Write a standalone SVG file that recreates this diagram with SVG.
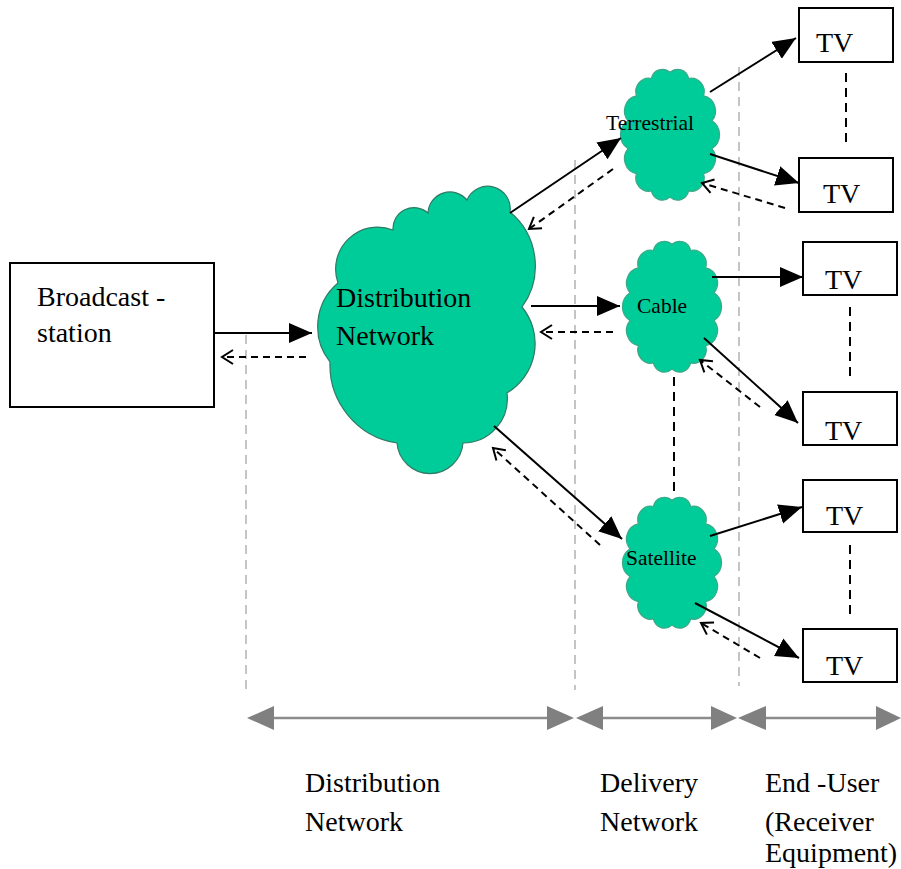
<svg xmlns="http://www.w3.org/2000/svg" width="901" height="869" viewBox="0 0 901 869">
<style>
  .box { fill: #fff; stroke: #000; stroke-width: 2; }
  .lbl { font-family: "Liberation Serif", "Times New Roman", serif; font-size: 28px; fill: #000; }
  .sm { font-family: "Liberation Serif", "Times New Roman", serif; font-size: 21.5px; fill: #000; }
  .cloud { fill: #00CC99; stroke: #2E7A64; stroke-width: 1.2; }
  .scloud { fill: #00CC99; stroke: #3AA887; stroke-width: 1.2; }
  .solid { stroke: #000; stroke-width: 2; fill: none; marker-end: url(#head); }
  .back { stroke: #000; stroke-width: 2; fill: none; stroke-dasharray: 7 5; marker-end: url(#open); }
  .gdash { stroke: #C4C4C4; stroke-width: 2; stroke-dasharray: 9 6; fill: none; }
  .bdash { stroke: #000; stroke-width: 2; stroke-dasharray: 9 6; fill: none; }
  .gline { stroke: #8C8C8C; stroke-width: 2.5; fill: none; }
  .ghead { fill: #808080; }
</style>
<defs>
  <marker id="head" markerUnits="userSpaceOnUse" markerWidth="24" markerHeight="22" refX="23" refY="10" orient="auto">
    <path d="M0,0 L23,10 L0,20 Z" fill="#000"/>
  </marker>
  <marker id="open" markerUnits="userSpaceOnUse" markerWidth="16" markerHeight="18" refX="12" refY="8" orient="auto">
    <path d="M1,1 L12,8 L1,15" fill="none" stroke="#000" stroke-width="2"/>
  </marker>
  <path id="smallcloud" d="M50,8 A11.4,11.4 0 0 1 68.66,13.94 A13,13 0 0 1 83.62,30.59 A14.7,14.7 0 0 1 91.92,54.65 A15.5,15.5 0 0 1 91.92,81.35 A14.7,14.7 0 0 1 83.62,105.41 A13,13 0 0 1 68.66,122.06 A11.4,11.4 0 0 1 50,128 A11.4,11.4 0 0 1 31.34,122.06 A13,13 0 0 1 16.38,105.41 A14.7,14.7 0 0 1 8.08,81.35 A15.5,15.5 0 0 1 8.08,54.65 A14.7,14.7 0 0 1 16.38,30.59 A13,13 0 0 1 31.34,13.94 A11.4,11.4 0 0 1 50,8 Z"/>
</defs>
<rect width="901" height="869" fill="#fff"/>

<g id="guides">
  <line class="gdash" x1="246" y1="335" x2="246" y2="690"/>
  <line class="gdash" x1="575" y1="160" x2="575" y2="690"/>
  <line class="gdash" x1="739" y1="67" x2="739" y2="686"/>
</g>

<g id="broadcast">
  <rect class="box" x="10" y="263" width="204" height="144"/>
  <text class="lbl" x="37" y="306">Broadcast -</text>
  <text class="lbl" x="37" y="342">station</text>
</g>

<g id="distribution">
  <path class="cloud" d="M338,283 A42,42 0 0 1 393,230 A21,21 0 0 1 428,213 A22,22 0 0 1 467,200 A22.5,22.5 0 0 1 510,212 A70,70 0 0 1 522,307 A57.5,57.5 0 0 1 507,393 A44.5,44.5 0 0 1 463,443 A33.1,33.1 0 0 1 397,443 A79,79 0 0 1 330,362 A57,57 0 0 1 338,283 Z"/>
  <text class="lbl" x="336" y="307">Distribution</text>
  <text class="lbl" x="336" y="345">Network</text>
</g>

<g id="terrestrial">
  <use href="#smallcloud" class="scloud" transform="translate(620,64) scale(1,1.04)"/>
  <text class="sm" x="606" y="130">Terrestrial</text>
</g>
<g id="cable">
  <use href="#smallcloud" class="scloud" transform="translate(622,236) scale(1,1.04)"/>
  <text class="sm" x="637" y="313">Cable</text>
</g>
<g id="satellite">
  <use href="#smallcloud" class="scloud" transform="translate(622,492) scale(1,1.04)"/>
  <text class="sm" x="626" y="565">Satellite</text>
</g>

<g id="tv1"><rect class="box" x="799" y="8" width="94" height="54"/><text class="lbl" x="816" y="52">TV</text></g>
<g id="tv2"><rect class="box" x="799" y="158" width="94" height="54"/><text class="lbl" x="823" y="203">TV</text></g>
<g id="tv3"><rect class="box" x="803" y="242" width="94" height="53"/><text class="lbl" x="825" y="289">TV</text></g>
<g id="tv4"><rect class="box" x="803" y="392" width="94" height="53"/><text class="lbl" x="825" y="440">TV</text></g>
<g id="tv5"><rect class="box" x="803" y="480" width="94" height="52"/><text class="lbl" x="826" y="525">TV</text></g>
<g id="tv6"><rect class="box" x="803" y="629" width="94" height="53"/><text class="lbl" x="826" y="675">TV</text></g>

<g id="connectors">
  <line class="solid" x1="214" y1="333" x2="312" y2="333"/>
  <line class="back" x1="306" y1="357" x2="222" y2="357"/>
  <line class="solid" x1="510" y1="213" x2="621" y2="138"/>
  <line class="back" x1="613" y1="169" x2="529" y2="229"/>
  <line class="solid" x1="531" y1="306" x2="620" y2="306"/>
  <line class="back" x1="613" y1="332" x2="541" y2="332"/>
  <line class="solid" x1="494" y1="426" x2="622" y2="539"/>
  <line class="back" x1="600" y1="545" x2="493" y2="448"/>
  <line class="solid" x1="710" y1="92" x2="796" y2="38"/>
  <line class="solid" x1="710" y1="154" x2="799" y2="183"/>
  <line class="back" x1="785" y1="208" x2="702" y2="183"/>
  <line class="solid" x1="712" y1="277" x2="803" y2="277"/>
  <line class="solid" x1="704" y1="338" x2="798" y2="423"/>
  <line class="back" x1="760" y1="407" x2="700" y2="360"/>
  <line class="solid" x1="710" y1="536" x2="802" y2="507"/>
  <line class="solid" x1="695" y1="603" x2="799" y2="658"/>
  <line class="back" x1="760" y1="658" x2="701" y2="623"/>
  <line class="bdash" x1="846" y1="73" x2="846" y2="148"/>
  <line class="bdash" x1="850" y1="307" x2="850" y2="382"/>
  <line class="bdash" x1="850" y1="545" x2="850" y2="618"/>
  <line class="bdash" x1="674" y1="377" x2="674" y2="492"/>
</g>

<g id="scale">
  <line class="gline" x1="270" y1="718" x2="550" y2="718"/>
  <polygon class="ghead" points="247,718 274,706 274,730"/>
  <polygon class="ghead" points="574,718 547,706 547,730"/>
  <line class="gline" x1="600" y1="718" x2="714" y2="718"/>
  <polygon class="ghead" points="576,718 603,706 603,730"/>
  <polygon class="ghead" points="737,718 711,706 711,730"/>
  <line class="gline" x1="763" y1="718" x2="878" y2="718"/>
  <polygon class="ghead" points="738,718 766,706 766,730"/>
  <polygon class="ghead" points="901,718 876,706 876,730"/>
</g>

<g id="legend">
  <text class="lbl" x="305" y="792">Distribution</text>
  <text class="lbl" x="305" y="831">Network</text>
  <text class="lbl" x="600" y="792">Delivery</text>
  <text class="lbl" x="600" y="831">Network</text>
  <text class="lbl" x="765" y="792">End -User</text>
  <text class="lbl" x="765" y="831">(Receiver</text>
  <text class="lbl" x="765" y="862">Equipment)</text>
</g>
</svg>
